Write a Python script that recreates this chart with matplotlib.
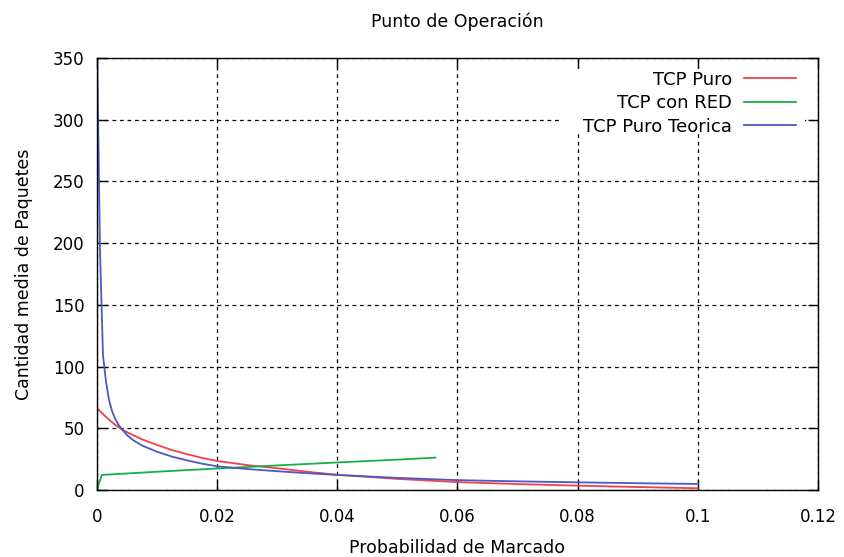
import numpy as np
import matplotlib
matplotlib.use("Agg")
import matplotlib.pyplot as plt
from matplotlib.patches import Rectangle

# probabilidad de marcado vs cantidad media de paquetes
p_puro = [0.0, 0.001, 0.002, 0.003, 0.004, 0.005, 0.0075, 0.01, 0.0125, 0.015,
          0.0175, 0.02, 0.025, 0.03, 0.035, 0.04, 0.05, 0.06, 0.07, 0.08,
          0.09, 0.1]
q_puro = [66.5, 61.5, 57.0, 53.0, 49.5, 46.8, 41.0, 36.5, 32.3, 29.0,
          26.0, 23.5, 20.2, 17.6, 14.8, 12.3, 9.0, 6.4, 4.8, 3.5,
          2.4, 1.4]

p_red = [0.0, 0.0008, 0.01, 0.02, 0.03, 0.04, 0.05, 0.0563]
q_red = [0.5, 12.2, 14.8, 17.4, 19.9, 22.3, 24.6, 26.2]

p_teo = [0.00005, 0.0005, 0.001, 0.0015, 0.002, 0.0025, 0.003, 0.0035, 0.004,
         0.005, 0.006, 0.0075, 0.01, 0.0125, 0.015, 0.0175, 0.02, 0.025,
         0.03, 0.035, 0.04, 0.05, 0.06, 0.07, 0.08, 0.09, 0.1]
q_teo = [350.0, 195.0, 109.0, 88.0, 73.0, 64.0, 58.0, 53.5, 50.0,
         44.5, 40.5, 36.0, 31.0, 27.0, 24.0, 21.3, 19.2, 17.0,
         15.2, 13.6, 12.2, 9.8, 8.0, 7.0, 6.2, 5.5, 4.9]

xticks = [0, 0.02, 0.04, 0.06, 0.08, 0.1, 0.12]
xlabels = ["0", "0.02", "0.04", "0.06", "0.08", "0.1", "0.12"]
yticks = [0, 50, 100, 150, 200, 250, 300, 350]

fig = plt.figure(figsize=(8.44, 5.57), dpi=100)
ax = fig.add_axes([0.1149, 0.1203, 0.8543, 0.7756])

ax.plot(p_puro, q_puro, color="#f2404c", lw=1.3, label="TCP Puro")
ax.plot(p_red, q_red, color="#18ad48", lw=1.3, label="TCP con RED")
ax.plot(p_teo, q_teo, color="#4a5abf", lw=1.3, label="TCP Puro Teorica")

ax.set_xlim(0, 0.12)
ax.set_ylim(0, 350)
ax.set_xticks(xticks)
ax.set_xticklabels(xlabels)
ax.set_yticks(yticks)

ax.grid(True, color="black", linestyle=(0, (3, 3)), linewidth=0.9)
ax.set_axisbelow(True)
ax.tick_params(direction="in", length=7, width=1, top=True, right=True,
               labelsize=12, colors="black")
ax.tick_params(axis="x", pad=13)
ax.tick_params(axis="y", pad=9)
for s in ax.spines.values():
    s.set_linewidth(1.0)

# white box behind the key hides the grid there
ax.add_patch(Rectangle((0.645, 0.824), 0.3375, 0.150, transform=ax.transAxes,
                       facecolor="white", edgecolor="none", zorder=1))

ax.set_title("Punto de Operación", fontsize=12.5, pad=22)
ax.set_xlabel("Probabilidad de Marcado", fontsize=12.5, labelpad=9)
ax.set_ylabel("Cantidad media de Paquetes", fontsize=12.5, labelpad=14)

leg = ax.legend(loc="upper right", markerfirst=False, fontsize=13,
                frameon=False, borderpad=0.3, labelspacing=0.3,
                handlelength=2.9, handletextpad=0.65,
                bbox_to_anchor=(0.99, 1.004))
for t in leg.get_texts():
    t.set_ha("right")
leg._legend_box.align = "right"

fig.savefig("out.png", dpi=100)
